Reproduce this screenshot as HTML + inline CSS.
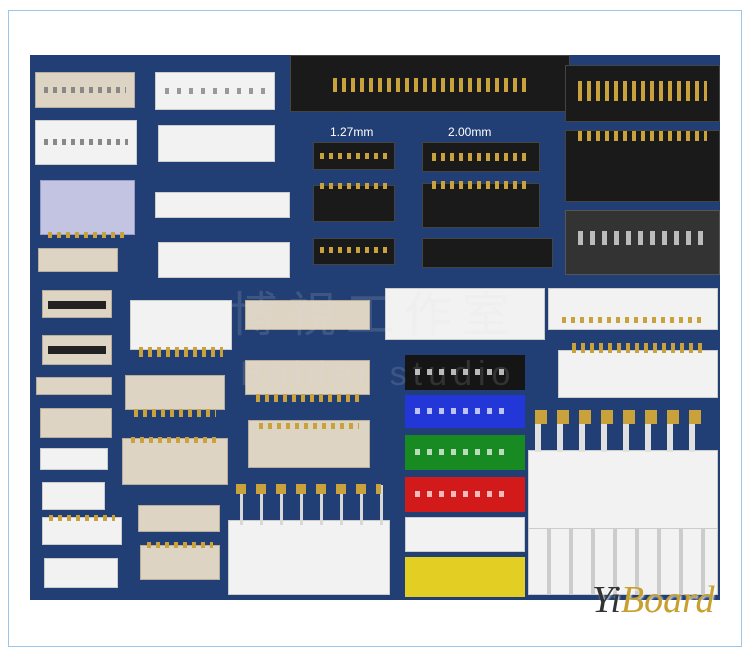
<!DOCTYPE html>
<html><head><meta charset="utf-8"><style>
body{margin:0;width:750px;height:655px;background:#fff;position:relative;overflow:hidden;font-family:"Liberation Sans",sans-serif}
.frame{position:absolute;left:8px;top:10px;width:732px;height:635px;border:1px solid #9cc6e8}
.panel{position:absolute;left:30px;top:55px;width:690px;height:545px;background:#213f75}
.b{position:absolute;box-sizing:border-box}
.w{background:#f2f2f2;border:1px solid #ccc}
.bg{background:#ddd4c4;border:1px solid #b9ae9b}
.k{background:#1a1a1a;border:1px solid #444}
.pins{position:absolute;left:8%;right:8%;height:6px;background:repeating-linear-gradient(90deg,#c9a23c 0 4px,transparent 4px 9px)}
.lp{position:absolute;left:8%;right:12%;top:40%;height:6px;background:repeating-linear-gradient(90deg,rgba(255,255,255,.7) 0 5px,transparent 5px 12px)}
.t{position:absolute;color:#fff;font-size:12px}
</style></head><body>
<div class="frame"></div>
<div class="panel"></div>
<div class="b bg" style="left:35px;top:72px;width:100px;height:36px"><div class="pins" style="top:14px;background:repeating-linear-gradient(90deg,#888 0 4px,transparent 4px 9px)"></div></div>
<div class="b w" style="left:35px;top:120px;width:102px;height:45px"><div class="pins" style="top:18px;background:repeating-linear-gradient(90deg,#888 0 4px,transparent 4px 9px)"></div></div>
<div class="b" style="left:40px;top:180px;width:95px;height:55px;background:#c2c4e2;border:1px solid #9a9cc8"><div class="pins" style="bottom:-4px"></div></div>
<div class="b bg" style="left:38px;top:248px;width:80px;height:24px"></div>
<div class="b bg" style="left:42px;top:290px;width:70px;height:28px"><div class="pins" style="top:10px;background:#222;height:8px"></div></div>
<div class="b bg" style="left:42px;top:335px;width:70px;height:30px"><div class="pins" style="top:10px;background:#222;height:8px"></div></div>
<div class="b bg" style="left:36px;top:377px;width:76px;height:18px"></div>
<div class="b bg" style="left:40px;top:408px;width:72px;height:30px"></div>
<div class="b w" style="left:40px;top:448px;width:68px;height:22px"></div>
<div class="b w" style="left:42px;top:482px;width:63px;height:28px"></div>
<div class="b w" style="left:42px;top:517px;width:80px;height:28px"><div class="pins" style="top:-3px"></div></div>
<div class="b w" style="left:44px;top:558px;width:74px;height:30px"></div>
<div class="b w" style="left:155px;top:72px;width:120px;height:38px"><div class="pins" style="top:15px;background:repeating-linear-gradient(90deg,#999 0 4px,transparent 4px 12px)"></div></div>
<div class="b w" style="left:158px;top:125px;width:117px;height:37px"></div>
<div class="b w" style="left:155px;top:192px;width:135px;height:26px"></div>
<div class="b w" style="left:158px;top:242px;width:132px;height:36px"></div>
<div class="b w" style="left:130px;top:300px;width:102px;height:50px"><div class="pins" style="bottom:-8px;height:10px"></div></div>
<div class="b bg" style="left:125px;top:375px;width:100px;height:35px"><div class="pins" style="bottom:-8px;height:8px"></div></div>
<div class="b bg" style="left:122px;top:438px;width:106px;height:47px"><div class="pins" style="top:-2px"></div></div>
<div class="b bg" style="left:138px;top:505px;width:82px;height:27px"></div>
<div class="b bg" style="left:140px;top:545px;width:80px;height:35px"><div class="pins" style="top:-4px"></div></div>
<div class="b bg" style="left:245px;top:300px;width:125px;height:30px"></div>
<div class="b bg" style="left:245px;top:360px;width:125px;height:35px"><div class="pins" style="bottom:-8px;height:8px"></div></div>
<div class="b bg" style="left:248px;top:420px;width:122px;height:48px"><div class="pins" style="top:2px"></div></div>
<div class="b w" style="left:228px;top:520px;width:162px;height:75px"></div>
<div class="b" style="left:240px;top:485px;width:145px;height:40px;background:repeating-linear-gradient(90deg,#d8d8d8 0 3px,transparent 3px 20px)"></div>
<div class="b" style="left:236px;top:484px;width:145px;height:10px;background:repeating-linear-gradient(90deg,#c9a23c 0 10px,transparent 10px 20px)"></div>
<div class="b k" style="left:290px;top:55px;width:280px;height:57px"><div class="pins" style="top:22px;height:14px;left:15%;right:15%"></div></div>
<div class="t" style="left:330px;top:125px">1.27mm</div>
<div class="t" style="left:448px;top:125px">2.00mm</div>
<div class="b k" style="left:313px;top:142px;width:82px;height:28px"><div class="pins" style="top:10px;height:6px"></div></div>
<div class="b k" style="left:313px;top:185px;width:82px;height:37px"><div class="pins" style="top:-3px"></div></div>
<div class="b k" style="left:313px;top:238px;width:82px;height:27px"><div class="pins" style="top:8px"></div></div>
<div class="b k" style="left:422px;top:142px;width:118px;height:30px"><div class="pins" style="top:10px;height:8px"></div></div>
<div class="b k" style="left:422px;top:183px;width:118px;height:45px"><div class="pins" style="top:-3px;height:8px"></div></div>
<div class="b k" style="left:422px;top:238px;width:131px;height:30px"></div>
<div class="b k" style="left:565px;top:65px;width:155px;height:57px"><div class="pins" style="top:15px;height:20px"></div></div>
<div class="b k" style="left:565px;top:130px;width:155px;height:72px"><div class="pins" style="top:0;height:10px"></div></div>
<div class="b" style="left:565px;top:210px;width:155px;height:65px;background:#333;border:1px solid #555"><div class="pins" style="top:20px;height:14px;background:repeating-linear-gradient(90deg,#bbb 0 5px,transparent 5px 12px)"></div></div>
<div class="b w" style="left:385px;top:288px;width:160px;height:52px"></div>
<div class="b w" style="left:548px;top:288px;width:170px;height:42px"><div class="pins" style="bottom:6px"></div></div>
<div class="b w" style="left:558px;top:350px;width:160px;height:48px"><div class="pins" style="top:-8px;height:10px"></div></div>
<div class="b" style="left:405px;top:355px;width:120px;height:35px;background:#151515"><div class="lp"></div></div>
<div class="b" style="left:405px;top:395px;width:120px;height:33px;background:#2336d8"><div class="lp"></div></div>
<div class="b" style="left:405px;top:435px;width:120px;height:35px;background:#188a22"><div class="lp"></div></div>
<div class="b" style="left:405px;top:477px;width:120px;height:35px;background:#d21a1a"><div class="lp"></div></div>
<div class="b w" style="left:405px;top:517px;width:120px;height:35px"></div>
<div class="b" style="left:405px;top:557px;width:120px;height:40px;background:#e3cf24"></div>
<div class="b w" style="left:528px;top:450px;width:190px;height:80px"></div>
<div class="b" style="left:535px;top:410px;width:175px;height:42px;background:repeating-linear-gradient(90deg,#e0e0e0 0 6px,transparent 6px 22px)"></div>
<div class="b" style="left:535px;top:410px;width:175px;height:14px;background:repeating-linear-gradient(90deg,#c9a23c 0 12px,transparent 12px 22px)"></div>
<div class="b w" style="left:528px;top:528px;width:190px;height:67px;background:repeating-linear-gradient(90deg,#f2f2f2 0 18px,#ccc 18px 22px)"></div>
<div class="b" style="left:230px;top:275px;font-size:48px;color:rgba(220,220,220,0.15);font-family:'Liberation Sans','Noto Sans CJK TC',sans-serif;letter-spacing:10px">博視工作室</div>
<div class="b" style="left:240px;top:355px;font-size:34px;color:rgba(220,220,220,0.15);letter-spacing:6px">Bolder studio</div>
<div class="b" style="left:592px;top:578px;font-size:38px;font-style:italic;font-family:'Liberation Serif',serif;color:#333;text-shadow:1px 1px 2px #fff">Yi<span style="color:#c8a030">Board</span></div>
</body></html>
